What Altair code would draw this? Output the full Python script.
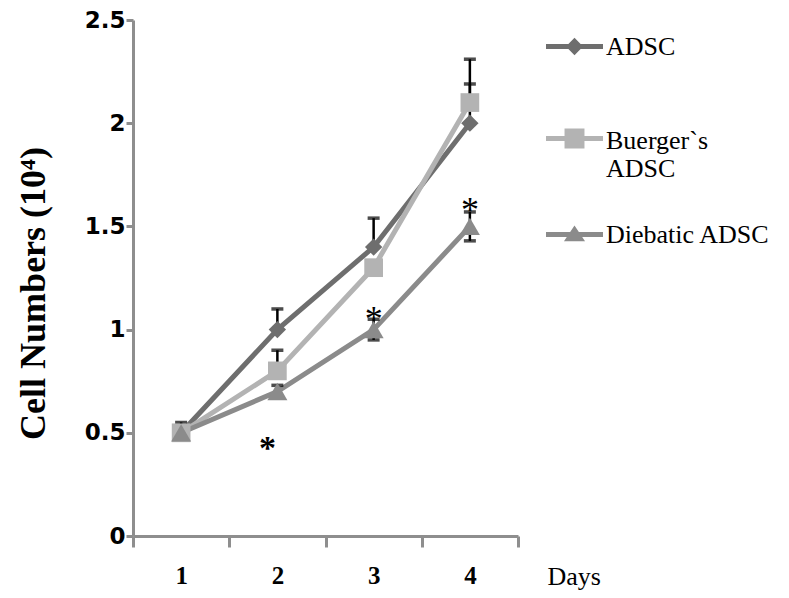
import altair as alt
import pandas as pd

# ---- data ----
days = [1, 2, 3, 4]
series_names = ["ADSC", "Buerger`s ADSC", "Diebatic ADSC"]
adsc = [0.5, 1.0, 1.4, 2.0]
buerger = [0.5, 0.8, 1.3, 2.1]
diebatic = [0.5, 0.7, 1.0, 1.5]
adsc_err = [0.05, 0.10, 0.14, 0.19]
buerger_err = [0.0, 0.10, 0.0, 0.21]
diebatic_err = [0.0, 0.03, 0.05, 0.07]
# whether the minus error bar is visible
adsc_minus = [False, False, False, False]
buerger_minus = [False, False, False, False]
diebatic_minus = [False, False, True, True]

star_days = [2, 3, 4]
star_values = [0.46, 1.09, 1.62]
star_bold = [True, False, False]

colors = ["#6e6e6e", "#b3b3b3", "#8b8b8b"]

rows = []
for name, vals, errs, minus in [
    (series_names[0], adsc, adsc_err, adsc_minus),
    (series_names[1], buerger, buerger_err, buerger_minus),
    (series_names[2], diebatic, diebatic_err, diebatic_minus),
]:
    for d, v, e, m in zip(days, vals, errs, minus):
        rows.append({"day": d, "series": name, "value": v, "err": e,
                     "hi": v + e, "lo": v - e if m else v, "minus": m})
df = pd.DataFrame(rows)
stars = pd.DataFrame({"day": star_days, "value": star_values, "bold": star_bold, "t": ["*"] * 3})

x_enc = alt.X("day:O", scale=alt.Scale(type="band", paddingInner=0, paddingOuter=0),
              axis=alt.Axis(tickBand="extent", labelAngle=0, title="Days",
                            labelFont="Liberation Serif", labelFontWeight="bold", labelFontSize=25,
                            labelColor="black", labelPadding=16, tickSize=11, tickWidth=3,
                            tickColor="#8e8e8e", domainColor="#8e8e8e", domainWidth=3,
                            titleFont="Liberation Serif", titleFontWeight="normal", titleFontSize=26,
                            titleColor="black", titleX=414, titleY=40, titleAlign="left",
                            titleBaseline="middle"))
y_scale = alt.Scale(domain=[0, 2.5], nice=False)
y_axis = alt.Axis(values=[0, 0.5, 1, 1.5, 2, 2.5], format="~g", grid=False,
                  labelFont="DejaVu Sans", labelFontWeight="bold", labelFontSize=23,
                  labelColor="black", labelPadding=1, tickSize=7, tickWidth=3,
                  tickColor="#8e8e8e", domainColor="#8e8e8e", domainWidth=3,
                  title="Cell Numbers (10\u2074)", titleFont="Liberation Serif",
                  titleFontWeight="bold", titleFontSize=36, titleColor="black",
                  titleX=-100, titleY=273, titleAngle=-90, titleBaseline="middle",
                  titleAlign="center")

color_scale = alt.Scale(domain=series_names, range=colors)

base = alt.Chart(df)

lines = base.mark_line(strokeWidth=5).encode(
    x=x_enc,
    y=alt.Y("value:Q", scale=y_scale, axis=y_axis),
    color=alt.Color("series:N", scale=color_scale, legend=None),
)

err_rules = base.transform_filter("datum.err > 0").mark_rule(color="black", strokeWidth=2.5).encode(
    x="day:O", y="lo:Q", y2="hi:Q")
caps_top = base.transform_filter("datum.err > 0").mark_tick(color="black", thickness=3.5, size=12).encode(
    x="day:O", y="hi:Q")
caps_bot = base.transform_filter("datum.err > 0 && datum.minus").mark_tick(color="black", thickness=3.5, size=12).encode(
    x="day:O", y="lo:Q")

points = base.mark_point(filled=True, opacity=1).encode(
    x="day:O",
    y="value:Q",
    color=alt.Color("series:N", scale=color_scale, legend=None),
    shape=alt.Shape("series:N", scale=alt.Scale(domain=series_names,
                                                range=["diamond", "square", "triangle-up"]),
                    legend=None),
    size=alt.Size("series:N", scale=alt.Scale(domain=series_names, range=[300, 400, 420]),
                  legend=None),
)

star_bold_text = alt.Chart(stars).transform_filter("datum.bold").mark_text(
    font="Liberation Serif", fontSize=34, fontWeight="bold", color="black",
    baseline="middle", dy=8, dx=-10).encode(x="day:O", y="value:Q", text="t:N")
star_text = alt.Chart(stars).transform_filter("!datum.bold").mark_text(
    font="Liberation Serif", fontSize=36, fontWeight="normal", color="black",
    baseline="middle", dy=9).encode(x="day:O", y="value:Q", text="t:N")

# legend symbols: line segment with the marker in its middle (second entry drawn one line lower)
legend_paths = [
    "M-1,-0.085H1V0.085H-1Z M0,-0.31L0.3,0L0,0.31L-0.3,0Z",
    "M-1,0.827H1V0.997H-1Z M-0.35,0.562H0.35V1.262H-0.35Z",
    "M-1,-0.085H1V0.085H-1Z M0,-0.32L0.37,0.24H-0.37Z",
]
fill_expr = ("datum.value == '%s' ? '%s' : datum.value == '%s' ? '%s' : '%s'"
             % (series_names[0], colors[0], series_names[1], colors[1], colors[2]))
leg = dict(orient="none", legendX=413, legendY=-2, title=None,
           labelFont="Liberation Serif", labelFontSize=26, labelColor="black",
           symbolSize=3249, symbolStrokeWidth=0, rowPadding=24, labelOffset=3,
           labelLimit=0, padding=0, symbolOpacity=1,
           symbolFillColor={"expr": fill_expr},
           labelExpr="datum.label == 'Buerger`s ADSC' ? ['', 'Buerger`s', 'ADSC'] : datum.label")
legend_layer = base.transform_filter("false").mark_point(
    filled=True, opacity=1, size=3249,
    fill={"expr": fill_expr}, color={"expr": fill_expr}).encode(
    shape=alt.Shape("series:N", scale=alt.Scale(domain=series_names, range=legend_paths),
                    legend=alt.Legend(**leg)),
)

chart = alt.layer(lines, err_rules, caps_top, caps_bot, points, star_bold_text, star_text,
                  legend_layer).resolve_scale(
    shape="independent"
).properties(
    width=385, height=516,
    padding={"left": 125, "top": 12, "right": 255, "bottom": 54},
    autosize=alt.AutoSizeParams(type="none"),
).configure_view(stroke=None)

chart.save("out.html", embed_options={"renderer": "svg", "actions": False})
